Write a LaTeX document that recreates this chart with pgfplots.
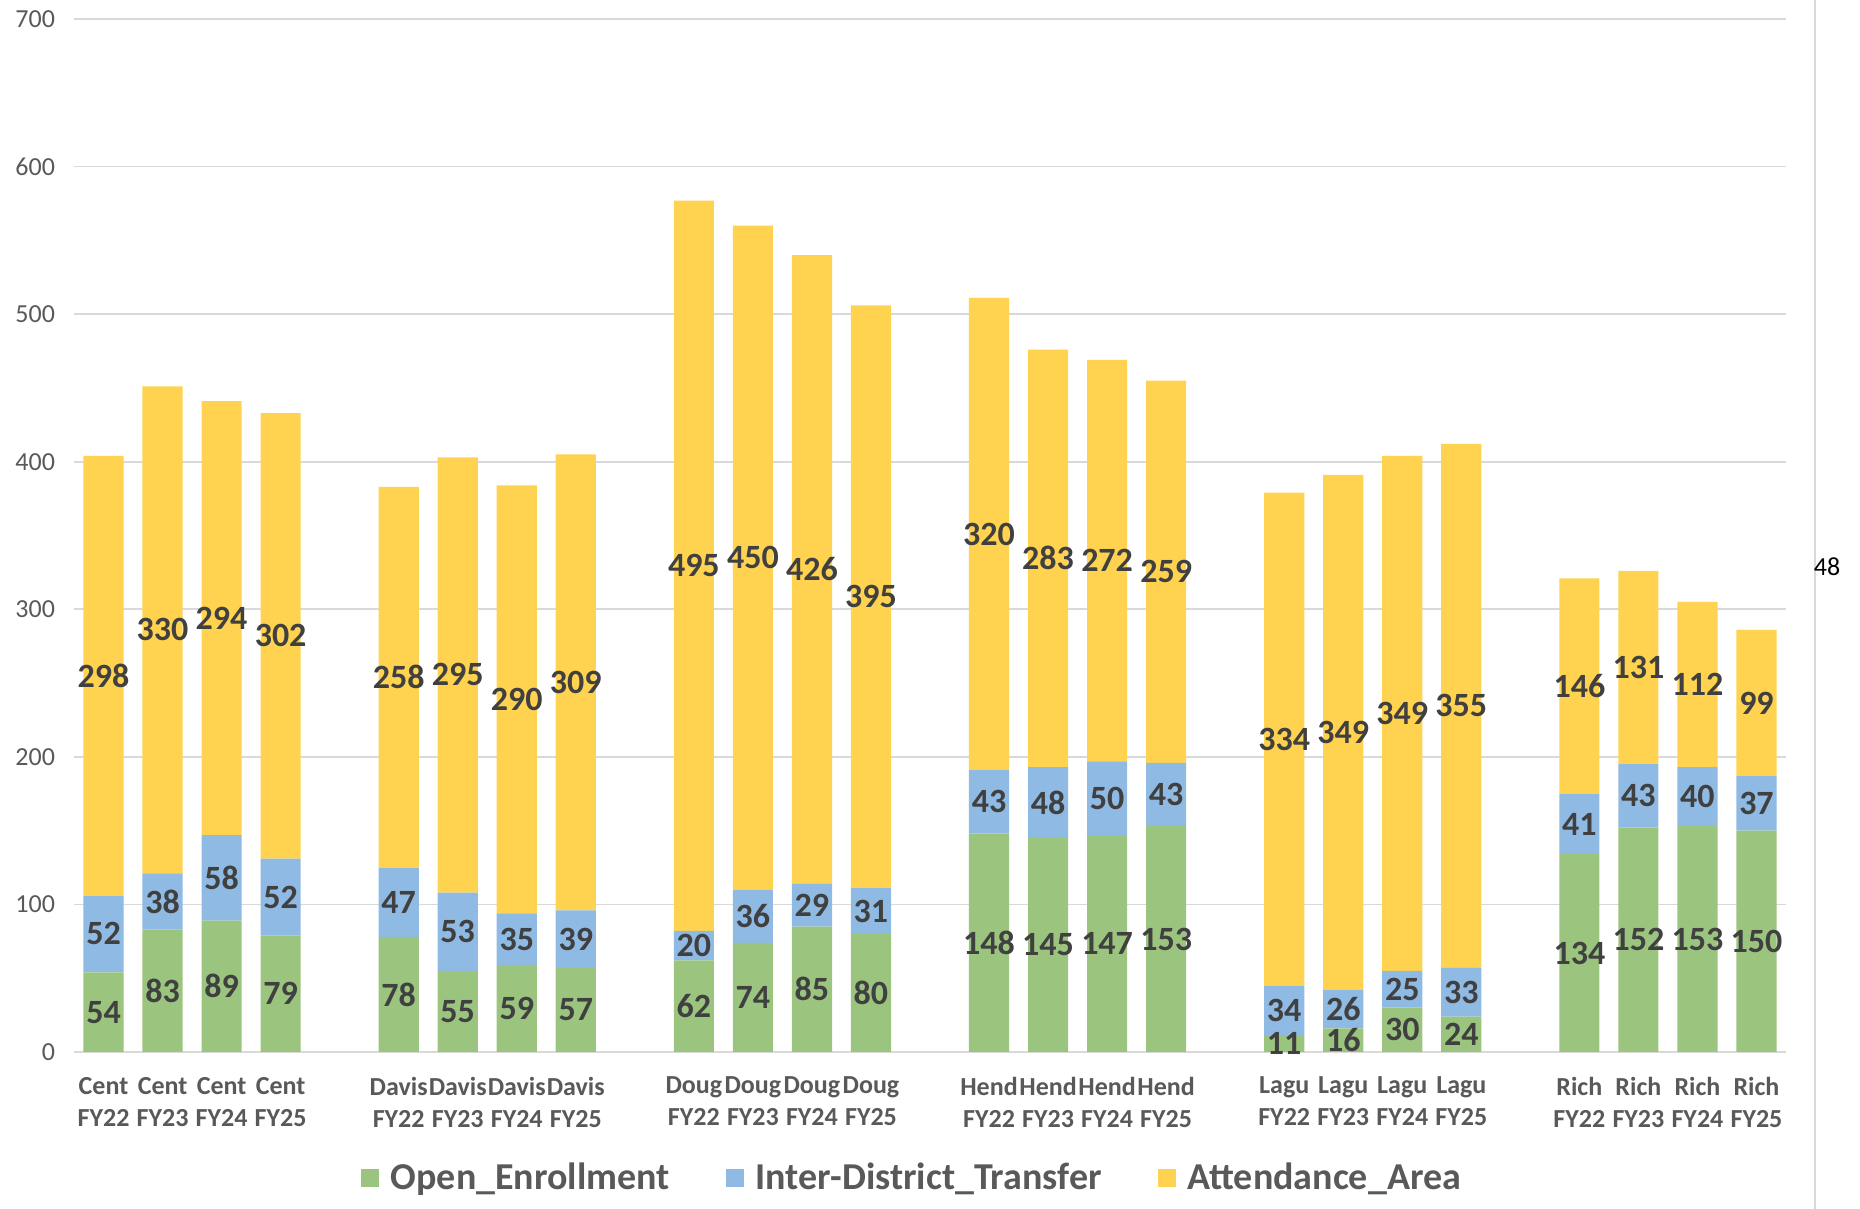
\documentclass[border=0pt]{standalone}
\usepackage{pgfplots}
\pgfplotsset{compat=1.18}
\usepackage{pgfplotstable}
\usepackage{fontspec}
\setmainfont{Carlito}
\definecolor{oe}{HTML}{9BC57F}
\definecolor{idt}{HTML}{8FBAE3}
\definecolor{aa}{HTML}{FFD34F}
\definecolor{txt}{HTML}{404040}
\definecolor{tick}{HTML}{595959}
\definecolor{gridc}{HTML}{D9D9D9}
\pgfplotstableread{
x oe idt aa
0 54 52 298
1 83 38 330
2 89 58 294
3 79 52 302
5 78 47 258
6 55 53 295
7 59 35 290
8 57 39 309
10 62 20 495
11 74 36 450
12 85 29 426
13 80 31 395
15 148 43 320
16 145 48 283
17 147 50 272
18 153 43 259
20 11 34 334
21 16 26 349
22 30 25 349
23 24 33 355
25 134 41 146
26 152 43 131
27 153 40 112
28 150 37 99
}\data
\begin{document}
\begin{tikzpicture}
\useasboundingbox (-37pt,-78.5pt) rectangle (893pt,526pt);
\begin{axis}[
  scale only axis, width=856pt, height=516.5pt,
  ybar stacked, bar width=0.68,
  xmin=-0.5, xmax=28.5, ymin=0, ymax=700,
  ytick={0,100,...,700},
  xtick={0,1,2,3,5,6,7,8,10,11,12,13,15,16,17,18,20,21,22,23,25,26,27,28},
  xticklabels={Cent\\FY22,Cent\\FY23,Cent\\FY24,Cent\\FY25,
    Davis\\FY22,Davis\\FY23,Davis\\FY24,Davis\\FY25,
    Doug\\FY22,Doug\\FY23,Doug\\FY24,Doug\\FY25,
    Hend\\FY22,Hend\\FY23,Hend\\FY24,Hend\\FY25,
    Lagu\\FY22,Lagu\\FY23,Lagu\\FY24,Lagu\\FY25,
    Rich\\FY22,Rich\\FY23,Rich\\FY24,Rich\\FY25},
  xticklabel style={align=center, font=\fontsize{13}{16}\selectfont\bfseries, text=tick, yshift=-9pt},
  yticklabel style={font=\fontsize{13}{15}\selectfont, text=tick, xshift=-6pt},
  /pgf/number format/assume math mode=true,
  major tick length=0pt,
  axis line style={draw=none},
  xmajorgrids=false, ymajorgrids=true,
  major grid style={draw=gridc, line width=0.8pt},
  visualization depends on=rawy\as\rawy,
  nodes near coords={\pgfmathprintnumber{\rawy}},
  every node near coord/.append style={anchor=center, font=\fontsize{17}{17}\selectfont\bfseries, text=txt},
  legend columns=3,
  legend style={draw=none, at={(axis description cs:0.49,-0.122)}, anchor=center,
    font=\fontsize{19}{19}\selectfont\bfseries, text=tick,
    /tikz/every odd column/.append style={column sep=4pt},
    /tikz/every even column/.append style={column sep=26pt}},
  legend image code/.code={\fill[#1] (0pt,-4.5pt) rectangle (9pt,4.5pt);},
]
\addplot[fill=oe, draw=none] table[x=x, y=oe] {\data};
\addplot[fill=idt, draw=none] table[x=x, y=idt] {\data};
\addplot[fill=aa, draw=none] table[x=x, y=aa] {\data};
\legend{Open\_Enrollment, Inter-District\_Transfer, Attendance\_Area}
\draw[gridc, line width=1.2pt] (rel axis cs:0,0) -- (rel axis cs:1,0);
\end{axis}
\draw[gridc, line width=1pt] (870.5pt,-78.5pt) -- (870.5pt,526pt);
\node[font=\fontsize{13}{13}\selectfont, anchor=center] at (876.5pt,242.5pt) {48};
\end{tikzpicture}
\end{document}
